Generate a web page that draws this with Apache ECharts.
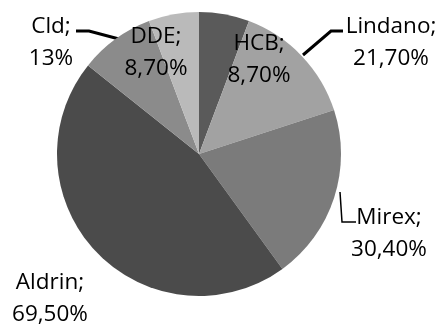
<!DOCTYPE html>
<html>
<head>
<meta charset="utf-8">
<script src="https://cdn.jsdelivr.net/npm/echarts@6/dist/echarts.min.js"></script>
<style>
  html, body { margin: 0; padding: 0; background: #ffffff; }
  #chart { width: 441px; height: 326px; }
</style>
</head>
<body>
<div id="chart"></div>
<script>
// Pesticide shares, clockwise from 12 o'clock
const categories = ['HCB', 'Lindano', 'Mirex', 'Aldrin', 'Cld', 'DDE'];
const values = [8.7, 21.7, 30.4, 69.5, 13, 8.7];

const sliceColors = ['#5a5a5a', '#a2a2a2', '#7b7b7b', '#4b4b4b', '#8b8b8b', '#bababa'];

// label block centres and leader lines, per category
const labelPlace = {
  HCB:     { x: 259, y: 60 },
  Lindano: { x: 391, y: 43, line: [[303, 55], [331, 31], [343, 31]], w: 3 },
  Mirex:   { x: 389, y: 234, line: [[340, 192], [342, 222], [356, 222]], w: 1.5 },
  Aldrin:  { x: 50, y: 299 },
  Cld:     { x: 51, y: 43, line: [[119, 39], [89, 31], [76, 31]], w: 3 },
  DDE:     { x: 156, y: 53 }
};

function pct(v) {
  return (Number.isInteger(v) ? String(v) : v.toFixed(2).replace('.', ',')) + '%';
}

const chart = echarts.init(document.getElementById('chart'), null, { renderer: 'canvas' });

const data = categories.map((name, i) => {
  const p = labelPlace[name];
  return {
    name: name,
    value: values[i],
    itemStyle: { color: sliceColors[i] },
    labelLine: {
      show: !!p.line,
      lineStyle: { color: '#000000', width: p.w || 1 }
    }
  };
});

chart.setOption({
  animation: false,
  series: [{
    type: 'pie',
    center: [199, 154],
    radius: 142,
    startAngle: 90,
    clockwise: true,
    avoidLabelOverlap: false,
    data: data,
    itemStyle: { borderWidth: 0 },
    label: {
      show: true,
      position: 'outside',
      formatter: (prm) => prm.name + ';\n' + pct(prm.value),
      fontFamily: 'Open Sans',
      fontSize: 22.5,
      lineHeight: 32,
      color: '#000000',
      align: 'center'
    },
    labelLine: { length: 5, length2: 5, smooth: false },
    labelLayout: (params) => {
      const name = categories[params.dataIndex];
      const p = labelPlace[name];
      const out = { x: p.x, y: p.y, align: 'center', verticalAlign: 'middle' };
      if (p.line) out.labelLinePoints = p.line;
      return out;
    },
    emphasis: { disabled: true }
  }]
});
</script>
</body>
</html>
